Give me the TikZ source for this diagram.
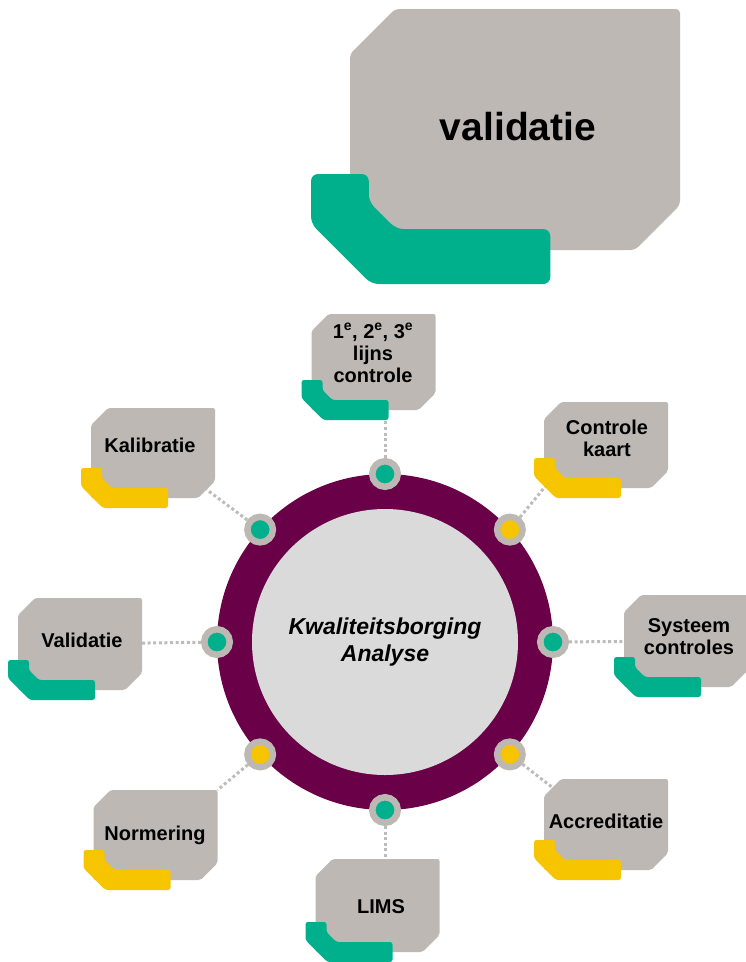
\documentclass[tikz,border=0pt]{standalone}
\usepackage{fontspec}
\setmainfont{Liberation Sans}

\definecolor{boxgrey}{RGB}{190,184,181}
\definecolor{lgreen}{RGB}{0,176,140}
\definecolor{lyellow}{RGB}{247,196,0}
\definecolor{ringpurple}{RGB}{106,0,72}
\definecolor{coregrey}{RGB}{218,218,218}
\definecolor{dotgrey}{RGB}{188,188,188}

\tikzset{
  tile/.style={rectangle, minimum width=124pt, minimum height=92pt, inner sep=0pt, outer sep=0pt},
  tilefill/.style={fill=boxgrey, rounded corners=2pt},
  tiletext/.style={font=\bfseries\fontsize{20}{22}\selectfont, align=center, inner sep=0pt},
  marker/.style={circle, draw=boxgrey, line width=6.5pt, minimum size=25.5pt, inner sep=0pt},
  link/.style={dotgrey, line width=3pt, dash pattern=on 3pt off 2.6pt},
  lsmall/.style={rounded corners=2.5pt},
  lbar/.pic={\fill[#1] (0,-40) -- (21,-40) -- (21,-30) -- (31,-20) -- (87,-20)
    -- (87,0) -- (22,0) -- (0,-22) -- cycle;}
}

\begin{document}
\begin{tikzpicture}[x=1pt,y=-1pt]
\useasboundingbox (0,0) rectangle (746,962);

% top block
\node[tile, minimum width=330pt, minimum height=241pt] (big) at (515,129.5) {};
\fill[tilefill, rounded corners=4pt] ([yshift=-45pt]big.north west) -- ([xshift=45pt]big.north west)
  -- (big.north east) -- ([yshift=45pt]big.south east) -- ([xshift=-45pt]big.south east)
  -- (big.south west) -- cycle;
\pic[scale=2.75, rounded corners=7pt] at ([xshift=-39pt,yshift=-34pt]big.south west) {lbar=lgreen};
\node[font=\bfseries\fontsize{39}{44}\selectfont, anchor=base] (bigtext) at (518,140) {validatie};

% ring
\node[circle, fill=ringpurple, minimum size=336pt, inner sep=0pt, outer sep=0pt] (ring) at (385,642) {};
\node[circle, fill=coregrey, minimum size=266pt, align=center,
  font=\bfseries\itshape\fontsize{23}{27}\selectfont] (core) at (385,642) {Kwaliteitsborging\\Analyse};

\foreach \ang/\col/\nm in {90/lgreen/mtop, 42/lyellow/mne, 0/lgreen/me, 318/lyellow/mse,
  270/lgreen/mbot, 222/lyellow/msw, 180/lgreen/mw, 138/lgreen/mnw}
  \node[marker, fill=\col] (\nm) at (ring.\ang) {};

% boxes
\node[tile, minimum height=96pt] (lijns) at (373.5,362) {};
\node[tile, minimum height=90pt] (kal) at (153,453) {};
\node[tile, minimum height=86pt] (ctrl) at (606,445) {};
\node[tile] (val) at (80,644) {};
\node[tile] (syst) at (686,641) {};
\node[tile, minimum height=90pt] (norm) at (155.5,835) {};
\node[tile, minimum height=91pt] (accr) at (606,824.5) {};
\node[tile, minimum height=93pt] (lims) at (377.5,905.5) {};

\foreach \bx in {lijns, kal, ctrl, val, syst, norm, accr, lims}
  \fill[tilefill] ([yshift=-17pt]\bx.north west) -- ([xshift=17pt]\bx.north west)
    -- (\bx.north east) -- ([yshift=17pt]\bx.south east) -- ([xshift=-17pt]\bx.south east)
    -- (\bx.south west) -- cycle;

% dotted links
\draw[link] (mtop) -- (mtop |- lijns.south);
\draw[link] (mnw) -- ([xshift=-8.5pt,yshift=8.5pt]kal.south east);
\draw[link] (mne) -- (ctrl.south west);
\draw[link] (mw) -- (val);
\draw[link] (me) -- (syst);
\draw[link] (msw) -- (norm.north east);
\draw[link] (mse) -- ([xshift=8.5pt,yshift=-8.5pt]accr.north west);
\draw[link] (mbot) -- (mbot |- lims.north);

% coloured bars
\foreach \bx/\col in {lijns/lgreen, kal/lyellow, ctrl/lyellow, val/lgreen, syst/lgreen,
  norm/lyellow, accr/lyellow, lims/lgreen}
  \pic[lsmall] at ([xshift=-10pt,yshift=-10pt]\bx.south west) {lbar=\col};

% labels
\node[tiletext] (lijnstext) at (373,353) {1\textsuperscript{e}, 2\textsuperscript{e}, 3\textsuperscript{e}\\lijns\\controle};
\node[tiletext, anchor=base] (kaltext) at (150,452) {Kalibratie};
\node[tiletext] (ctrltext) at (607,438.5) {Controle\\kaart};
\node[tiletext, anchor=base] (valtext) at (82,647) {Validatie};
\node[tiletext] (systtext) at (689,636.5) {Systeem\\controles};
\node[tiletext, anchor=base] (normtext) at (155,840) {Normering};
\node[tiletext, anchor=base] (accrtext) at (606,828) {Accreditatie};
\node[tiletext, anchor=base] (limstext) at (381,913) {LIMS};
\end{tikzpicture}
\end{document}
